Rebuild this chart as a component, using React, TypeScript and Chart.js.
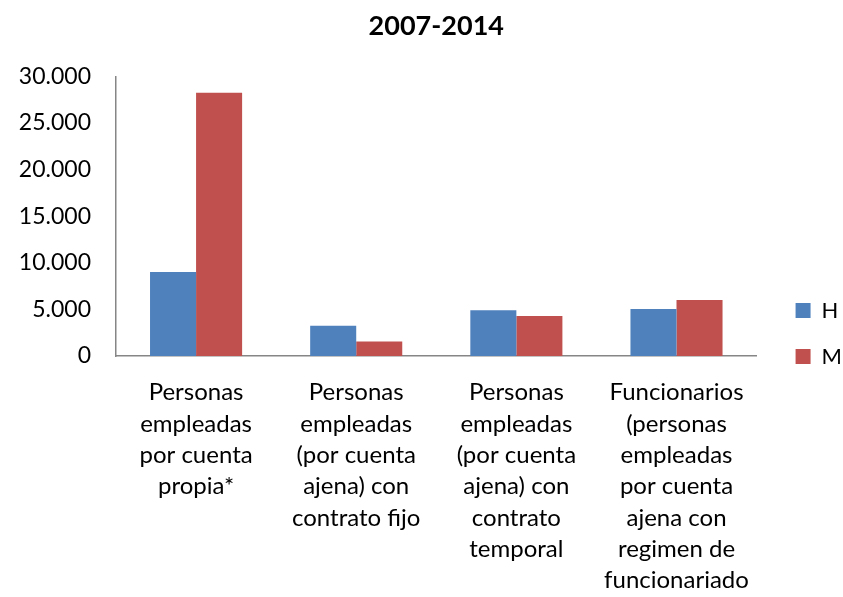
import React, { useEffect, useRef } from "react";
import { Chart, registerables } from "chart.js";

Chart.register(...registerables);

const categories: string[][] = [
  ["Personas", "empleadas", "por cuenta", "propia*"],
  ["Personas", "empleadas", "(por cuenta", "ajena) con", "contrato fijo"],
  ["Personas", "empleadas", "(por cuenta", "ajena) con", "contrato", "temporal"],
  ["Funcionarios", "(personas", "empleadas", "por cuenta", "ajena con", "regimen de", "funcionariado"],
];
const seriesNames = ["H", "M"];
const valuesH = [9000, 3250, 4900, 5050];
const valuesM = [28250, 1550, 4300, 6000];
const yMin = 0;
const yMax = 30000;
const yStep = 5000;
const title = "2007-2014";

const FONT = "Lato";

const fmt = (v: number) => String(Math.round(v)).replace(/\B(?=(\d{3})+(?!\d))/g, ".");

export default function App() {
  const ref = useRef<HTMLCanvasElement | null>(null);
  useEffect(() => {
    if (!ref.current) return;
    const chart = new Chart(ref.current, {
      type: "bar",
      data: {
        labels: categories,
        datasets: [
          { label: seriesNames[0], data: valuesH, backgroundColor: "#4F81BD", borderWidth: 0 },
          { label: seriesNames[1], data: valuesM, backgroundColor: "#C0504D", borderWidth: 0 },
        ],
      },
      options: {
        responsive: false,
        animation: false,
        layout: { padding: { left: 0, right: -9, top: 0, bottom: 0 } },
        datasets: { bar: { categoryPercentage: 0.575, barPercentage: 1 } },
        plugins: {
          title: {
            display: true,
            text: title,
            fullSize: false,
            color: "#000",
            font: { family: FONT, size: 27, weight: "bold", lineHeight: 1.2 },
            padding: { top: 10, bottom: 34 },
          },
          legend: {
            display: true,
            position: "right",
            align: "center",
            fullSize: true,
            title: { display: true, text: " ", font: { family: FONT, size: 50, lineHeight: 1.4 }, padding: 0 },
            labels: {
              boxWidth: 15,
              boxHeight: 15,
              padding: 24,
              color: "#000",
              font: { family: FONT, size: 22 },
            },
          },
          tooltip: { enabled: false },
        },
        scales: {
          x: {
            grid: { display: false, drawTicks: false },
            border: { display: true, color: "#868686", width: 1.5 },
            ticks: {
              color: "#000",
              font: { family: FONT, size: 24, lineHeight: 1.305 },
              padding: 21,
              maxRotation: 0,
              autoSkip: false,
            },
            afterFit: (s: any) => {
              s.height = 241;
            },
          },
          y: {
            min: yMin,
            max: yMax,
            grid: { display: false, drawTicks: false },
            border: { display: true, color: "#868686", width: 1.5 },
            ticks: {
              stepSize: yStep,
              color: "#000",
              padding: 25,
              font: { family: FONT, size: 23 },
              callback: (v: any) => fmt(Number(v)),
            },
            afterFit: (s: any) => {
              s.width = 116;
            },
          },
          yR: {
            position: "right",
            display: true,
            grid: { display: false, drawTicks: false },
            border: { display: false },
            ticks: { display: false },
            afterFit: (s: any) => {
              s.width = 15;
            },
          },
        },
      },
    } as any);
    return () => chart.destroy();
  }, []);
  return (
    <div style={{ position: "absolute", left: 0, top: 0, width: 843, height: 597, background: "#fff" }}>
      <canvas ref={ref} width={843} height={597} />
    </div>
  );
}
